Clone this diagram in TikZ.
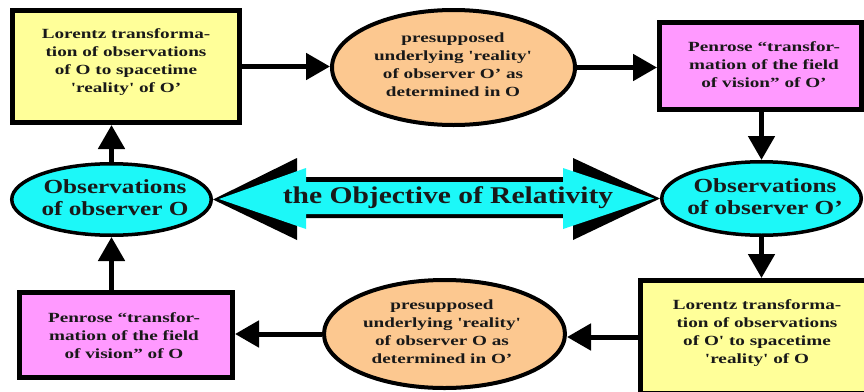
\documentclass[tikz,border=0pt]{standalone}
\usepackage{fontspec}
\setmainfont{Liberation Serif}
\newfontfamily\bxf{Liberation Serif Bold}[FakeStretch=1.37,Ligatures=TeXOff]
\newfontfamily\ovf{Liberation Serif Bold}[FakeStretch=1.26,Ligatures=TeXOff]
\newfontfamily\objf{Liberation Serif Bold}[FakeStretch=1.23,Ligatures=TeXOff]
\usetikzlibrary{arrows.meta,shapes.geometric}
\definecolor{boxyellow}{HTML}{FFFF99}
\definecolor{boxviolet}{HTML}{FF99FF}
\definecolor{peach}{HTML}{FCC890}
\definecolor{cyanfill}{HTML}{1CF8F8}
\begin{document}
\begin{tikzpicture}[x=1pt,y=-1pt,
  ybox/.style={draw=black,line width=5pt,fill=boxyellow,rectangle,inner sep=0pt},
  vbox/.style={draw=black,line width=5pt,fill=boxviolet,rectangle,inner sep=0pt},
  pell/.style={draw=black,line width=4pt,fill=peach,ellipse,inner sep=0pt},
  cell/.style={draw=black,line width=3.5pt,fill=cyanfill,ellipse,inner sep=0pt},
  lbl/.style={align=center,inner sep=0pt,text=black!90,font=\bxf\fontsize{14}{18}\selectfont},
  olbl/.style={align=center,inner sep=0pt,text=black!90,font=\ovf\fontsize{20}{22}\selectfont},
  conn/.style={draw=black,line width=5pt,-{Triangle[length=24pt,width=26pt]}},
]
\clip (0,0) rectangle (864,391);
\fill[white] (0,0) rectangle (864,391);

% boxes and ellipses
\node[ybox,minimum width=227pt,minimum height=112pt] (tl) at (126,66.5) {};
\node[lbl] (tlt) at (126,62) {Lorentz transforma-\\tion of observations\\of O to spacetime\\'reality' of O’};

\node[pell,minimum width=243pt,minimum height=115pt] (tm) at (453.5,67.5) {};
\node[lbl] (tmt) at (453,64.5) {presupposed\\underlying 'reality'\\of observer O’ as\\determined in O};

\node[vbox,minimum width=202pt,minimum height=87pt] (tr) at (760.5,66) {};
\node[lbl] (trt) at (764,65) {Penrose “transfor-\\mation of the field\\of vision” of O’};

\node[cell,minimum width=199.5pt,minimum height=73.5pt] (r) at (761.5,198.5) {};
\node[olbl] (rt) at (765,197) {Observations\\of observer O’};

\node[ybox,minimum width=233pt,minimum height=113pt] (br) at (757,337) {};
\node[lbl] (brt) at (757,333.5) {Lorentz transforma-\\tion of observations\\of O' to spacetime\\'reality' of O};

\node[pell,minimum width=241pt,minimum height=108pt] (bm) at (444.5,334) {};
\node[lbl] (bmt) at (442,331.5) {presupposed\\underlying 'reality'\\of observer O as\\determined in O’};

\node[vbox,minimum width=213pt,minimum height=85pt] (bl) at (126,335) {};
\node[lbl] (blt) at (124,335.5) {Penrose “transfor-\\mation of the field\\of vision” of O};

\node[cell,minimum width=199.5pt,minimum height=71.5pt] (l) at (111.5,199.5) {};
\node[olbl] (lt) at (115,197.5) {Observations\\of observer O};

% central double arrow
\fill[black] (l.east) -- (297,158) -- (297,177) -- (573,177) -- (573,158) -- (r.west)
  -- (573,240) -- (573,218) -- (297,218) -- (297,240) -- cycle;
\fill[cyanfill] (219,199) -- (306,168) -- (306,182) -- (563,182) -- (563,168) -- (654,198.5)
  -- (563,229) -- (563,214) -- (306,214) -- (306,229) -- cycle;
\node[inner sep=0pt,text=black!90,font=\objf\fontsize{24}{26}\selectfont] (obj) at (448,198) {the Objective of Relativity};

% connectors
\draw[conn] (tl.east) -- (tl.east -| tm.west);
\draw[conn] (tm.east) -- (tm.east -| tr.west);
\draw[conn] (tr.south -| r.north) -- (r.north);
\draw[conn] (r.south) -- (r.south |- br.north);
\draw[conn] (br.west) -- (br.west -| bm.east);
\draw[conn] (bm.west) -- (bm.west -| bl.east);
\draw[conn] (bl.north -| l.south) -- (l.south);
\draw[conn] (l.north) -- (l.north |- tl.south);
\end{tikzpicture}
\end{document}
